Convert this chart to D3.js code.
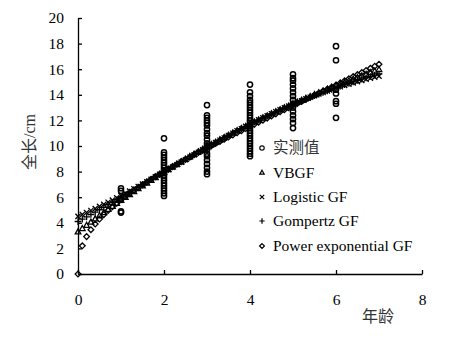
<!DOCTYPE html>
<html><head><meta charset="utf-8">
<script src="https://cdn.jsdelivr.net/npm/d3@7"></script>
<style>body{margin:0;background:#fff}svg{display:block}
text{font-family:"Liberation Serif","Times New Roman","Noto Sans CJK SC",serif !important;}
</style>
</head><body>
<svg id="c" width="454" height="342"></svg>
<script>
// Observed data (age, total length cm)
const obsAge = [
  1,1,1,1,1,
  2,2,2,2,2,2,2,2,2,2,2,2,2,2,2,2,2,2,2,
  3,3,3,3,3,3,3,3,3,3,3,3,3,3,3,3,3,3,3,3,
  4,4,4,4,4,4,4,4,4,4,4,4,4,4,4,4,4,4,4,4,4,4,4,4,4,4,
  5,5,5,5,5,5,5,5,5,5,5,5,5,5,5,
  6,6,6,6,6,6,6
];
const obsLen = [
  6.7,6.5,5.9,4.9,4.8,
  10.6,9.5,9.3,9.1,8.9,8.7,8.5,8.3,8.1,7.9,7.7,7.5,7.3,7.1,6.9,6.7,6.5,6.3,6.1,
  13.2,12.4,12.2,12.0,11.8,11.6,11.3,11.0,10.8,10.5,10.2,10.0,9.7,9.4,9.2,8.9,8.6,8.3,8.0,7.8,
  14.8,14.2,13.9,13.6,13.4,13.2,13.0,12.8,12.6,12.4,12.2,12.0,11.8,11.6,11.4,11.2,11.0,10.8,10.6,10.4,10.2,10.0,9.8,9.6,9.4,9.2,
  15.6,15.3,15.1,14.8,14.5,14.2,13.9,13.6,13.3,13.0,12.7,12.4,12.1,11.8,11.4,
  17.8,16.7,14.4,14.1,13.5,13.3,12.2
];
// Fitted curve ages
const fitAge = [0,0.1,0.2,0.3,0.4,0.5,0.6,0.7,0.8,0.9,1,1.1,1.2,1.3,1.4,1.5,1.6,1.7,1.8,1.9,2,2.1,2.2,2.3,2.4,2.5,2.6,2.7,2.8,2.9,3,3.1,3.2,3.3,3.4,3.5,3.6,3.7,3.8,3.9,4,4.1,4.2,4.3,4.4,4.5,4.6,4.7,4.8,4.9,5,5.1,5.2,5.3,5.4,5.5,5.6,5.7,5.8,5.9,6,6.1,6.2,6.3,6.4,6.5,6.6,6.7,6.8,6.9,7];
const vbgf = [3.30,3.56,3.81,4.06,4.31,4.56,4.81,5.05,5.29,5.52,5.76,5.99,6.22,6.44,6.67,6.89,7.11,7.32,7.54,7.75,7.96,8.16,8.37,8.57,8.77,8.97,9.17,9.36,9.55,9.74,9.93,10.12,10.30,10.48,10.66,10.84,11.01,11.19,11.36,11.53,11.70,11.87,12.03,12.19,12.35,12.51,12.67,12.83,12.98,13.13,13.29,13.43,13.58,13.73,13.87,14.02,14.16,14.30,14.43,14.57,14.71,14.84,14.97,15.10,15.23,15.36,15.49,15.61,15.74,15.86,15.98];
const logistic = [4.50,4.65,4.80,4.96,5.11,5.28,5.44,5.61,5.77,5.95,6.12,6.30,6.48,6.66,6.84,7.02,7.21,7.40,7.59,7.78,7.97,8.16,8.35,8.54,8.74,8.93,9.12,9.31,9.51,9.70,9.89,10.08,10.26,10.45,10.63,10.82,11.00,11.18,11.35,11.53,11.70,11.87,12.04,12.20,12.36,12.52,12.68,12.83,12.98,13.12,13.27,13.41,13.54,13.68,13.81,13.93,14.06,14.18,14.30,14.41,14.52,14.63,14.73,14.83,14.93,15.03,15.12,15.21,15.29,15.38,15.46];
const gompertz = [4.10,4.28,4.46,4.65,4.83,5.02,5.21,5.41,5.60,5.80,5.99,6.19,6.39,6.59,6.79,6.99,7.19,7.39,7.59,7.79,7.99,8.18,8.38,8.58,8.78,8.97,9.16,9.36,9.55,9.74,9.92,10.11,10.29,10.48,10.66,10.84,11.01,11.19,11.36,11.53,11.70,11.86,12.03,12.19,12.34,12.50,12.65,12.81,12.96,13.10,13.25,13.39,13.53,13.66,13.80,13.93,14.06,14.19,14.31,14.43,14.55,14.67,14.79,14.90,15.01,15.12,15.22,15.33,15.43,15.53,15.63];
const powerExp = [0.00,2.20,2.92,3.46,3.90,4.29,4.64,4.96,5.26,5.53,5.80,6.05,6.30,6.53,6.76,6.98,7.19,7.40,7.61,7.81,8.01,8.20,8.39,8.58,8.77,8.95,9.13,9.31,9.49,9.66,9.84,10.01,10.19,10.36,10.53,10.70,10.86,11.03,11.20,11.36,11.53,11.69,11.86,12.02,12.18,12.35,12.51,12.67,12.83,12.99,13.16,13.32,13.48,13.64,13.80,13.96,14.12,14.29,14.45,14.61,14.77,14.93,15.09,15.25,15.42,15.58,15.74,15.90,16.07,16.23,16.39];
const seriesNames = ["实测值","VBGF","Logistic GF","Gompertz GF","Power exponential GF"];
const xTicks = [0,2,4,6,8];
const yTicks = [0,2,4,6,8,10,12,14,16,18,20];
const xTitle = "年龄";
const yTitle = "全长/cm";

const svg = d3.select("#c");
const x = d3.scaleLinear().domain([0,8]).range([78,422]);
const y = d3.scaleLinear().domain([0,20]).range([274,18]);

// marker shapes
const shapes = {
  circle: s => `M${-s},0a${s},${s} 0 1,0 ${2*s},0a${s},${s} 0 1,0 ${-2*s},0Z`,
  triangle: s => `M0,${-s*1.05}L${s},${s*0.75}L${-s},${s*0.75}Z`,
  times: s => `M${-s},${-s}L${s},${s}M${-s},${s}L${s},${-s}`,
  plus: s => `M${-s*1.2},0L${s*1.2},0M0,${-s*1.2}L0,${s*1.2}`,
  diamond: s => `M0,${-s*1.1}L${s*1.1},0L0,${s*1.1}L${-s*1.1},0Z`
};
const shapeKeys = ["circle","triangle","times","plus","diamond"];

function drawSeries(xs, ys, shape, size, sw) {
  svg.append("g").selectAll("path").data(xs.map((d,i)=>[d, ys[i]])).join("path")
    .attr("transform", d => `translate(${x(d[0])},${y(d[1])})`)
    .attr("d", shapes[shape](size))
    .attr("fill", "none").attr("stroke", "#000").attr("stroke-width", sw);
}

// axes
const gy = svg.append("g").attr("transform","translate(78,0)")
  .call(d3.axisLeft(y).tickValues(yTicks).tickSizeInner(-4).tickSizeOuter(0).tickPadding(14));
const gx = svg.append("g").attr("transform","translate(0,274)")
  .call(d3.axisBottom(x).tickValues(xTicks).tickSizeInner(-4).tickSizeOuter(0).tickPadding(20));
[gx, gy].forEach(g => {
  g.attr("font-family", null).attr("font-size", null);
  g.select(".domain").attr("stroke","#000").attr("stroke-width",1.3);
  g.selectAll(".tick line").attr("stroke","#000").attr("stroke-width",1.3);
  g.selectAll(".tick text").style("font-size","15.5px").attr("fill","#000");
});

// fitted curves then observed
drawSeries(fitAge, vbgf, "triangle", 2.8, 1.3);
drawSeries(fitAge, logistic, "times", 2.6, 1.3);
drawSeries(fitAge, gompertz, "plus", 2.8, 1.3);
drawSeries(fitAge, powerExp, "diamond", 2.6, 1.3);
drawSeries(obsAge, obsLen, "circle", 2.6, 1.5);

// titles
svg.append("text").attr("x",378).attr("y",322).attr("text-anchor","middle")
  .style("font-size","16px").attr("fill","#333").text(xTitle);
svg.append("text").attr("transform","translate(35,142) rotate(-90)").attr("text-anchor","middle")
  .style("font-size","16px").attr("fill","#333").text(yTitle);

// legend
const legY = [148,172.5,197,221,246];
const leg = svg.append("g");
seriesNames.forEach((n,i) => {
  leg.append("path").attr("transform",`translate(262,${legY[i]})`)
    .attr("d", shapes[shapeKeys[i]](2.2)).attr("fill","none").attr("stroke","#000").attr("stroke-width",1.2);
  leg.append("text").attr("x",273).attr("y",legY[i]).attr("dy","0.35em")
    .style("font-size","15.5px").attr("fill", i===0 ? "#333" : "#000").text(n);
});
</script>
</body></html>
